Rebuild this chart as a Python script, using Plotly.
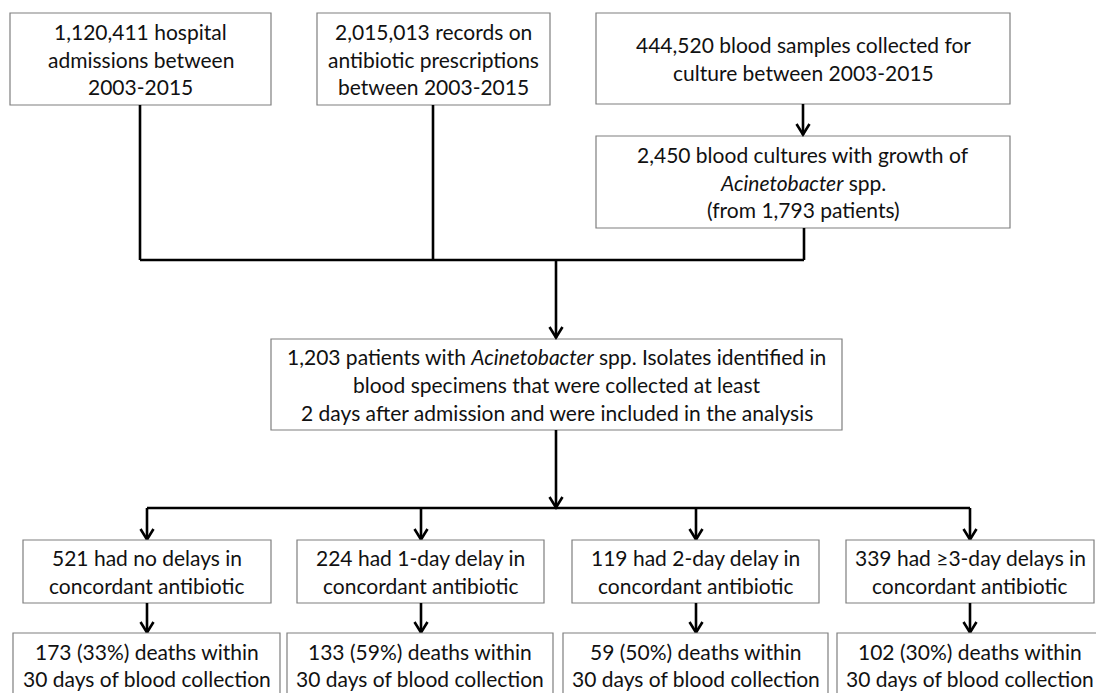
import plotly.graph_objects as go

# ---------------- data (text content of the flowchart) ----------------
source_labels = [
    "1,120,411 hospital<br>admissions between<br>2003-2015",
    "2,015,013 records on<br>antibiotic prescriptions<br>between 2003-2015",
    "444,520 blood samples collected for<br>culture between 2003-2015",
]
culture_label = "2,450 blood cultures with growth of<br><i>Acinetobacter</i> spp.<br>(from 1,793 patients)"
cohort_label = ("1,203 patients with <i>Acinetobacter</i> spp. Isolates identified in<br>"
                "blood specimens that were collected at least<br>"
                "2 days after admission and were included in the analysis")
delay_counts = [521, 224, 119, 339]
delay_groups = ["had no delays in", "had 1-day delay in", "had 2-day delay in", "had \u22653-day delays in"]
delay_tail = "concordant antibiotic"
death_counts = [173, 133, 59, 102]
death_pcts = [33, 59, 50, 30]
death_tail = "deaths within<br>30 days of blood collection"

# ---------------- layout geometry (pixels, y downward) ----------------
W, H = 1096, 693
src_boxes = [(10, 13, 271, 105), (317, 13, 550, 105), (596, 13, 1010, 104)]
culture_box = (596, 136, 1010, 228)
cohort_box = (271, 339, 842, 430)
delay_boxes = [(23, 540, 271, 603), (297, 540, 544, 603), (572, 540, 819, 603), (846, 540, 1094, 603)]
death_boxes = [(13, 633, 280, 705), (287, 633, 553, 705), (563, 633, 828, 705), (837, 633, 1103, 705)]
branch_x = [147, 421, 696, 970]
bus1_y, bus2_y = 260, 508
LINE_H = 27.6
FONT = dict(family="Lato, Open Sans, sans-serif", size=21, color="#111111")
BOX_LINE = dict(color="#7f7f7f", width=1.2)
CONN = dict(color="#000000", width=2.6)

fig = go.Figure()
shapes, annotations = [], []


def box(b):
    shapes.append(dict(type="rect", x0=b[0], y0=b[1], x1=b[2], y1=b[3],
                       line=BOX_LINE, fillcolor="white", layer="above"))


def text_in(b, label, cy=None):
    lines = label.split("<br>")
    cx = (b[0] + b[2]) / 2
    if cy is None:
        cy = (b[1] + b[3]) / 2
    n = len(lines)
    for i, ln in enumerate(lines):
        y = cy + (i - (n - 1) / 2) * LINE_H
        annotations.append(dict(x=cx, y=y, xref="x", yref="y", text=ln, showarrow=False,
                                font=FONT, xanchor="center", yanchor="middle"))


def seg(x0, y0, x1, y1):
    shapes.append(dict(type="line", x0=x0, y0=y0, x1=x1, y1=y1, line=CONN, layer="above"))


def arrow(x, y0, y1):
    seg(x, y0, x, y1)
    shapes.append(dict(type="path", path=f"M {x-6.5},{y1-11} L {x},{y1-0.5} L {x+6.5},{y1-11}",
                       line=CONN, layer="above"))


for b, lab in zip(src_boxes, source_labels):
    box(b)
    text_in(b, lab)
box(culture_box)
text_in(culture_box, culture_label)
box(cohort_box)
text_in(cohort_box, cohort_label)

# connectors (top part)
arrow(803, 104, 135)
seg(140, 105, 140, bus1_y)
seg(433, 105, 433, bus1_y)
seg(804, 228, 804, bus1_y)
seg(140, bus1_y, 804, bus1_y)
arrow(556, bus1_y, 338)

# lower part
arrow(556, 430, bus2_y)
seg(branch_x[0], bus2_y, branch_x[-1], bus2_y)
for i in range(4):
    bx = branch_x[i]
    arrow(bx, bus2_y, delay_boxes[i][1])
    box(delay_boxes[i])
    text_in(delay_boxes[i], f"{delay_counts[i]} {delay_groups[i]}<br>{delay_tail}")
    arrow(bx, delay_boxes[i][3], death_boxes[i][1])
    box(death_boxes[i])
    text_in(death_boxes[i], f"{death_counts[i]} ({death_pcts[i]}%) {death_tail}", cy=665)

fig.update_layout(
    width=W, height=H, margin=dict(l=0, r=0, t=0, b=0),
    paper_bgcolor="white", plot_bgcolor="white",
    xaxis=dict(range=[0, W], visible=False, fixedrange=True),
    yaxis=dict(range=[H, 0], visible=False, fixedrange=True),
    shapes=shapes, annotations=annotations, showlegend=False,
)
fig.write_html("out.html", config=dict(displayModeBar=False),
               post_script="document.body.style.margin='0';document.body.style.overflow='hidden';")
